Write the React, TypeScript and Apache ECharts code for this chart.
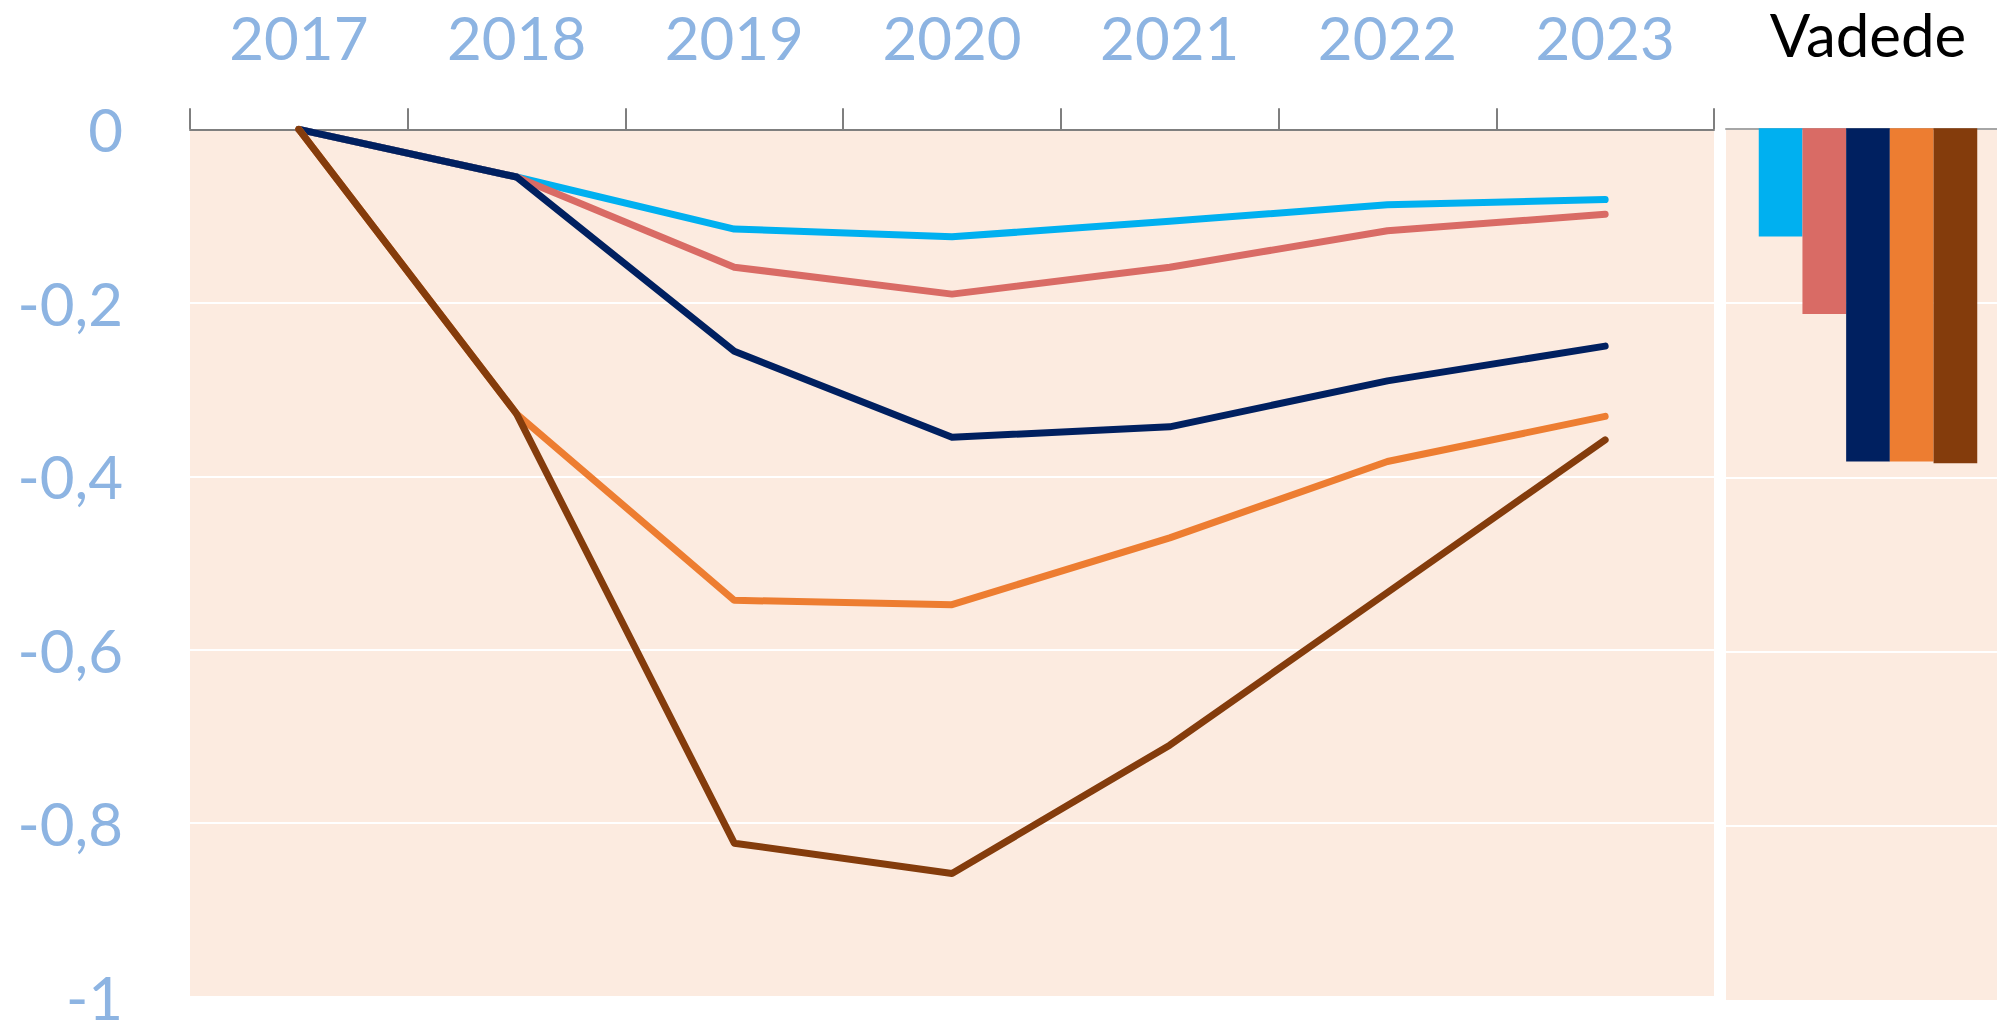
import React, { useEffect, useRef } from "react";
import * as echarts from "echarts";

const years = ["2017", "2018", "2019", "2020", "2021", "2022", "2023"];
const cyanVals = [0, -0.055, -0.115, -0.124, -0.106, -0.087, -0.081];
const redVals = [0, -0.055, -0.159, -0.19, -0.159, -0.117, -0.098];
const navyVals = [0, -0.055, -0.256, -0.355, -0.343, -0.29, -0.25];
const orangeVals = [0, -0.328, -0.543, -0.548, -0.471, -0.383, -0.331];
const brownVals = [0, -0.328, -0.823, -0.858, -0.71, -0.534, -0.358];

const barCategory = ["Vadede"];
const barVals = [-0.124, -0.213, -0.382, -0.382, -0.384];

const colors = ["#00B0F0", "#D96B65", "#002060", "#ED7D31", "#843C0C"];
const seriesNames = ["Seri 1", "Seri 2", "Seri 3", "Seri 4", "Seri 5"];
const lineData = [cyanVals, redVals, navyVals, orangeVals, brownVals];

const labelBlue = "#8DB4E2";
const plotBg = "#FCEBE0";
const font = "Lato, 'Open Sans', sans-serif";

export default function App() {
  const ref = useRef<HTMLDivElement>(null);
  useEffect(() => {
    if (!ref.current) return;
    const chart = echarts.init(ref.current, null, { renderer: "svg" });
    const fmt = (v: number) => {
      const r = Math.round(v * 10) / 10;
      return String(r).replace(".", ",");
    };
    const option: any = {
      animation: false,
      backgroundColor: "#ffffff",
      grid: [
        { left: 190, top: 129.3, width: 1524, height: 867.4, show: true, backgroundColor: plotBg, borderWidth: 0 },
        { left: 1726, top: 128.3, width: 284, height: 872.4, show: true, backgroundColor: plotBg, borderWidth: 0 },
      ],
      xAxis: [
        {
          type: "category",
          gridIndex: 0,
          position: "top",
          data: years,
          boundaryGap: true,
          axisLine: { show: true, lineStyle: { color: "#7F7F7F", width: 2 } },
          axisTick: { show: true, length: 21, lineStyle: { color: "#7F7F7F", width: 2 } },
          axisLabel: { color: labelBlue, fontSize: 60, lineHeight: 60, fontFamily: font, margin: 62 },
          splitLine: { show: false },
        },
        {
          type: "category",
          gridIndex: 1,
          position: "top",
          data: barCategory,
          axisLine: { show: true, lineStyle: { color: "#A6A6A6", width: 2 } },
          axisTick: { show: false },
          axisLabel: { color: "#000000", fontSize: 60, lineHeight: 56, fontFamily: font, margin: 66 },
          splitLine: { show: false },
        },
      ],
      yAxis: [
        {
          type: "value",
          gridIndex: 0,
          min: -1,
          max: 0,
          interval: 0.2,
          axisLine: { show: false },
          axisTick: { show: false },
          axisLabel: { color: labelBlue, fontSize: 60, lineHeight: 52, fontFamily: font, margin: 67, formatter: fmt },
          splitLine: { show: true, lineStyle: { color: "#ffffff", width: 2 } },
        },
        {
          type: "value",
          gridIndex: 1,
          min: -1,
          max: 0,
          interval: 0.2,
          axisLine: { show: false },
          axisTick: { show: false },
          axisLabel: { show: false },
          splitLine: { show: true, lineStyle: { color: "#ffffff", width: 2 } },
        },
      ],
      series: [
        ...lineData.map((d, i) => ({
          type: "line",
          name: seriesNames[i],
          xAxisIndex: 0,
          yAxisIndex: 0,
          data: d,
          symbol: "none",
          showSymbol: false,
          lineStyle: { width: 7, color: colors[i], cap: "round", join: "round" },
          itemStyle: { color: colors[i] },
          z: 3 + i,
        })),
        ...barVals.map((v, i) => ({
          type: "bar",
          name: seriesNames[i],
          xAxisIndex: 1,
          yAxisIndex: 1,
          data: [v],
          barWidth: 43.7,
          barGap: "0%",
          itemStyle: { color: colors[i] },
        })),
      ],
    };
    chart.setOption(option);
    return () => chart.dispose();
  }, []);
  return (
    <div
      style={{
        position: "fixed",
        left: 0,
        top: 0,
        width: 1997,
        height: 1028,
        overflow: "hidden",
        background: "#ffffff",
      }}
    >
      <div ref={ref} style={{ width: 2030, height: 1028 }} />
    </div>
  );
}
